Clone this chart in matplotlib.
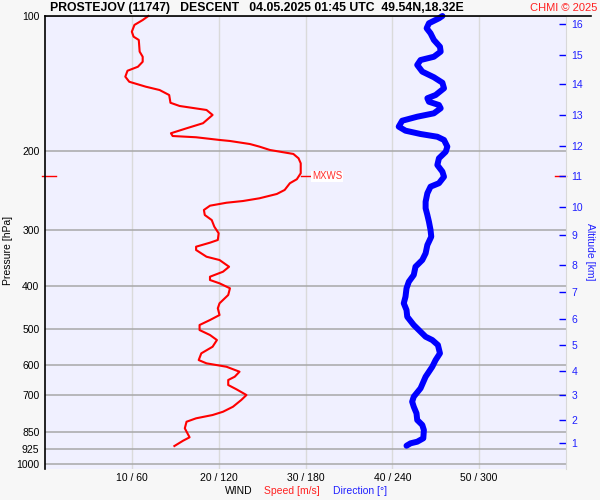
import matplotlib
matplotlib.use("Agg")
import matplotlib.pyplot as plt

# ============================ data ============================
# wind speed profile (red), pressure [hPa] / speed [m/s]
speed_p = [100, 102.1, 104.7, 108.4, 111.2, 113.1, 120.1, 123.3, 126.5, 129.8,
           132.5, 136.6, 140.2, 143.8, 146.3, 150.1, 156.2, 158.8, 162.1, 166.3,
           173.5, 178.1, 182.7, 185.3, 186.5, 189.1, 190.1, 193.1, 195.7, 199.1,
           203.2, 207.8, 213.2, 224.4, 231.4, 236.2, 244.5, 249.6, 255.2, 258.8,
           261.1, 265.1, 271.0, 278.1, 285.4, 295.3, 305.5, 316.2, 320.6, 327.3,
           332.9, 344.6, 350.5, 362.8, 372.2, 381.9, 388.4, 395.1, 405.3, 419.5,
           437.8, 449.2, 465.0, 477.1, 489.5, 502.3, 515.3, 528.8, 547.3, 566.2,
           586.1, 596.1, 606.6, 622.3, 638.5, 649.4, 666.3, 681.2, 701.5, 719.7,
           745.0, 764.4, 777.4, 790.7, 804.7, 832.4, 871.8, 887.2, 911.7]
speed = [11.9, 11.25, 10.3, 10.0, 10.2, 10.8, 10.9, 11.25, 11.25, 10.7,
         9.5, 9.25, 9.7, 11.6, 13.2, 14.3, 14.45, 15.5, 18.6, 19.3,
         18.2, 16.3, 14.5, 14.7, 17.4, 20.1, 21.3, 23.6, 24.7, 25.9,
         28.6, 29.2, 29.45, 29.45, 29.0, 28.2, 27.6, 26.7, 24.7, 22.8,
         20.9, 19.0, 18.3, 18.4, 19.2, 19.5, 20.0, 19.9, 19.0, 17.4,
         17.4, 18.6, 20.1, 21.2, 20.5, 19.0, 19.0, 20.1, 21.3, 21.1,
         20.1, 19.9, 20.1, 19.0, 17.8, 17.8, 19.0, 19.8, 19.3, 18.0,
         17.7, 18.6, 20.9, 22.4, 21.85, 21.1, 21.1, 22.05, 23.2, 22.6,
         21.65, 20.5, 19.3, 17.4, 16.3, 16.1, 16.65, 15.9, 14.9]

# wind direction profile (blue), pressure [hPa] / direction [deg]
dir_p = [100, 101.2, 103.8, 106.5, 109.3, 113.1, 117.1, 120.1, 123.3, 125.4,
         128.6, 133.1, 137.0, 140.9, 145.0, 150.1, 152.6, 155.4, 158.0, 160.7,
         164.9, 167.8, 171.3, 176.6, 180.3, 183.4, 186.0, 189.1, 195.7, 200.9,
         207.8, 215.1, 222.6, 228.5, 236.2, 240.4, 248.7, 259.7, 268.7, 278.1,
         287.9, 300.4, 310.9, 324.5, 338.6, 350.5, 362.8, 378.5, 391.8, 405.3,
         423.2, 437.8, 453.2, 469.1, 489.5, 506.7, 519.9, 528.8, 542.5, 566.2,
         586.1, 606.6, 638.5, 677.7, 707.6, 726.0, 745.0, 770.6, 797.6, 818.3,
         839.8, 876.3, 891.7, 899.1, 910.4]
direction = [274.6, 272.2, 265.3, 263.7, 266.4, 268.7, 272.9, 273.4, 268.7, 259.5,
             257.2, 260.7, 268.7, 274.6, 275.7, 269.9, 264.2, 265.3, 272.2, 273.4,
             268.7, 257.2, 246.8, 244.4, 249.1, 259.5, 271.1, 275.7, 278.0, 276.9,
             272.2, 271.1, 274.6, 275.7, 272.2, 266.4, 264.2, 263.0, 263.0, 264.2,
             265.3, 266.4, 266.9, 264.2, 263.0, 260.7, 256.0, 254.8, 251.4, 249.8,
             249.1, 247.9, 249.8, 250.3, 254.8, 259.5, 263.0, 267.6, 271.5, 272.9,
             269.9, 267.6, 263.0, 259.5, 254.8, 253.7, 254.8, 256.7, 257.2, 260.7,
             261.8, 261.4, 257.2, 252.6, 249.8]

# axes
p_levels = [100, 200, 300, 400, 500, 600, 700, 850, 925, 1000]
speed_ticks = [10, 20, 30, 40, 50]
speed_labels = ["10 / 60", "20 / 120", "30 / 180", "40 / 240", "50 / 300"]
alt_km = list(range(1, 17))
alt_p = [899, 796, 703, 620, 543, 475, 413, 359, 308, 267, 228, 195, 166, 142, 122, 104]
mxws_p = 228

title = "PROSTEJOV (11747)   DESCENT   04.05.2025 01:45 UTC  49.54N,18.32E"

# ================================ figure ===========================================
plt.rcParams['font.family'] = ['Liberation Sans', 'DejaVu Sans']

fig = plt.figure(figsize=(6, 5), dpi=100, facecolor='#f7f7f7')
ax = fig.add_axes([45/600, 1 - 469/500, 521/600, 453/500])
ax.set_facecolor('#f0f0ff')

ax.set_yscale('log')
ax.set_ylim(1026, 100)
ax.set_xlim(0, 60)

# grid
for p in p_levels:
    ax.axhline(p, color='#a8a8a8', lw=1.1, zorder=1)
for s in speed_ticks:
    ax.axvline(s, color='#dadada', lw=1.0, zorder=0)

# profiles (direction drawn on the speed scale: 60 m/s == 360 deg)
ax.plot([d / 6.0 for d in direction], dir_p, color='#0000ff', lw=4.3,
        solid_capstyle='round', solid_joinstyle='round', zorder=3, clip_on=False)
ax.plot(speed, speed_p, color='#ff0000', lw=1.5, zorder=4, clip_on=False)

# max wind marker
mx = max(speed)
ax.plot([mx, mx + 1.1], [mxws_p, mxws_p], color='#ff0000', lw=1, zorder=5)
ax.text(mx + 1.3, mxws_p, "MXWS", color='#ff3030', fontsize=7, va='center', ha='left',
        bbox=dict(facecolor='white', edgecolor='none', pad=0.5), zorder=5)
yt = ax.get_yaxis_transform()
ax.plot([-0.006, 0.022], [mxws_p, mxws_p], color='#ff0000', lw=1, transform=yt, clip_on=False)
ax.plot([0.978, 1.0], [mxws_p, mxws_p], color='#ff0000', lw=1, transform=yt, clip_on=False, zorder=6)

# axes styling
ax.set_yticks(p_levels)
ax.set_yticklabels([str(p) for p in p_levels])
ax.yaxis.set_minor_locator(plt.NullLocator())
ax.tick_params(axis='y', length=0, pad=4, labelsize=7.5)
ax.set_xticks(speed_ticks)
ax.set_xticklabels(speed_labels)
ax.tick_params(axis='x', length=0, pad=3, labelsize=7.5)
for side in ['bottom', 'right']:
    ax.spines[side].set_visible(False)
ax.spines['left'].set_color('black')
ax.spines['left'].set_linewidth(1.2)
ax.spines['top'].set_visible(False)
ax.set_ylabel("Pressure [hPa]", fontsize=7.5, va='center')
ax.yaxis.set_label_coords(-0.071, 0.483)

# altitude axis on the right
ax2 = ax.twinx()
ax2.set_yscale('log')
ax2.set_ylim(1026, 100)
ax2.set_yticks(alt_p)
ax2.set_yticklabels([str(a) for a in alt_km])
ax2.yaxis.set_minor_locator(plt.NullLocator())
ax2.tick_params(axis='y', direction='in', length=5, width=1, color='#0000ff',
                labelcolor='#2020ff', labelsize=7.5, pad=4)
for side in ['left', 'top', 'bottom']:
    ax2.spines[side].set_visible(False)
ax2.spines['right'].set_color('#d8d8d8')
ax2.set_ylabel("Altitude [km]", color='#2020ff', fontsize=7.5, rotation=270, va='center')
ax2.yaxis.set_label_coords(1.046, 0.479)

# top black rule
fig.add_artist(plt.Line2D([45/600, 591/600], [1 - 15.5/500, 1 - 15.5/500], color='black', lw=1.2))

# header texts
fig.text(50/600, 1 - 8/500, title, fontsize=8.8, fontweight='bold', va='center', ha='left')
fig.text(597/600, 1 - 8/500, "CHMI \u00a9 2025", fontsize=8, color='#ff2020', va='center', ha='right')

# bottom legend
fig.text(225/600, 1 - 491/500, "WIND", fontsize=7.5, color='black', va='center', ha='left')
fig.text(264/600, 1 - 491/500, "Speed [m/s]", fontsize=7.5, color='#ff2020', va='center', ha='left')
fig.text(333/600, 1 - 491/500, "Direction [\u00b0]", fontsize=7.5, color='#2020ff', va='center', ha='left')

fig.savefig("out.png", dpi=100, facecolor=fig.get_facecolor())
